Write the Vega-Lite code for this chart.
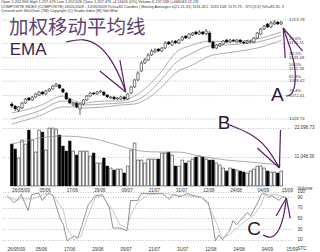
{
  "$schema": "https://vega.github.io/schema/vega-lite/v6.json",
  "padding": 0,
  "background": "white",
  "spacing": 0,
  "bounds": "flush",
  "title": {
    "text": [
      "Open 1,202.906  High 1,207.479  Low 1,202.626  Close 1,207.476  +4.11600 (0%)  Volume 6,137,588 (+666043.12.18)",
      "COMPOSITE INDEX (COMPOSITE)  26/05/2009 - 15/09/2009  Ticks=80  Candles | Moving Averages e(21,21,31) 1191.451, 1185.108, 1175.73 - STC(3,3) %K=89.35, 9",
      "Created with WinChart (TM)  Copyright (C) Studio Index [M] Sdn Bhd"
    ],
    "anchor": "start", "fontSize": 3.85, "fontWeight": "normal", "font": "Liberation Sans",
    "color": "#333", "lineHeight": 4.3, "offset": 1, "frame": "group"
  },
  "config": {
    "view": {"stroke": null},
    "axis": {"labelFont": "Liberation Sans", "labelFontSize": 4.5, "labelColor": "#333", "ticks": false, "domain": false,
             "gridColor": "#999", "gridDash": [1, 1.5], "gridWidth": 0.6, "labelPadding": 1, "labelOverlap": false},
    "text": {"font": "Liberation Sans"}
  },
  "datasets": {
    "days": [
      {"i":0,"date":"26/05","o":1056.8,"h":1060.5,"l":1049.3,"c":1053.0,"v":15973},
      {"i":1,"date":"27/05","o":1053.0,"h":1054.9,"l":1043.7,"c":1047.4,"v":14071},
      {"i":2,"date":"28/05","o":1045.4,"h":1053.0,"l":1041.8,"c":1051.2,"v":10648},
      {"i":3,"date":"29/05","o":1049.3,"h":1060.5,"l":1047.4,"c":1058.6,"v":17494},
      {"i":4,"date":"01/06","o":1058.6,"h":1068.0,"l":1056.8,"c":1066.1,"v":15973},
      {"i":5,"date":"02/06","o":1068.0,"h":1069.9,"l":1062.4,"c":1064.3,"v":21297},
      {"i":6,"date":"03/06","o":1064.3,"h":1071.7,"l":1062.4,"c":1069.9,"v":17494},
      {"i":7,"date":"04/06","o":1069.9,"h":1077.3,"l":1068.0,"c":1075.5,"v":12930},
      {"i":8,"date":"05/06","o":1073.6,"h":1081.1,"l":1071.7,"c":1079.2,"v":21297},
      {"i":9,"date":"08/06","o":1079.2,"h":1081.1,"l":1073.6,"c":1075.5,"v":20536},
      {"i":10,"date":"09/06","o":1075.5,"h":1082.9,"l":1073.6,"c":1081.1,"v":13691},
      {"i":11,"date":"10/06","o":1081.1,"h":1086.7,"l":1079.2,"c":1084.8,"v":22057},
      {"i":12,"date":"11/06","o":1084.8,"h":1092.3,"l":1082.9,"c":1090.4,"v":22057},
      {"i":13,"date":"12/06","o":1090.4,"h":1096.0,"l":1088.6,"c":1094.2,"v":21677},
      {"i":14,"date":"15/06","o":1092.3,"h":1094.2,"l":1084.8,"c":1086.7,"v":19395},
      {"i":15,"date":"16/06","o":1084.8,"h":1086.7,"l":1077.3,"c":1079.2,"v":15212},
      {"i":16,"date":"17/06","o":1077.3,"h":1079.2,"l":1064.3,"c":1066.1,"v":13311},
      {"i":17,"date":"18/06","o":1066.1,"h":1068.0,"l":1056.8,"c":1058.6,"v":17114},
      {"i":18,"date":"19/06","o":1054.9,"h":1060.5,"l":1053.0,"c":1058.6,"v":13311},
      {"i":19,"date":"22/06","o":1058.6,"h":1060.5,"l":1049.3,"c":1051.2,"v":11789},
      {"i":20,"date":"23/06","o":1047.4,"h":1058.6,"l":1036.3,"c":1056.8,"v":13311},
      {"i":21,"date":"24/06","o":1056.8,"h":1066.1,"l":1054.9,"c":1064.3,"v":13311},
      {"i":22,"date":"25/06","o":1064.3,"h":1073.6,"l":1062.4,"c":1071.7,"v":13311},
      {"i":23,"date":"26/06","o":1071.7,"h":1079.2,"l":1069.9,"c":1077.3,"v":11409},
      {"i":24,"date":"29/06","o":1077.3,"h":1079.2,"l":1073.6,"c":1075.5,"v":12550},
      {"i":25,"date":"30/06","o":1075.5,"h":1081.1,"l":1073.6,"c":1079.2,"v":8747},
      {"i":26,"date":"01/07","o":1079.2,"h":1082.9,"l":1077.3,"c":1081.1,"v":8747},
      {"i":27,"date":"02/07","o":1079.2,"h":1081.1,"l":1071.7,"c":1073.6,"v":10648},
      {"i":28,"date":"03/07","o":1073.6,"h":1075.5,"l":1068.0,"c":1069.9,"v":7606},
      {"i":29,"date":"06/07","o":1068.0,"h":1071.7,"l":1066.1,"c":1069.9,"v":6845},
      {"i":30,"date":"07/07","o":1069.9,"h":1071.7,"l":1064.3,"c":1066.1,"v":6085},
      {"i":31,"date":"08/07","o":1066.1,"h":1069.9,"l":1064.3,"c":1068.0,"v":6465},
      {"i":32,"date":"09/07","o":1066.1,"h":1071.7,"l":1064.3,"c":1069.9,"v":6465},
      {"i":33,"date":"10/07","o":1069.9,"h":1071.7,"l":1064.3,"c":1066.1,"v":4944},
      {"i":34,"date":"13/07","o":1066.1,"h":1077.3,"l":1064.3,"c":1075.5,"v":7606},
      {"i":35,"date":"14/07","o":1077.3,"h":1090.4,"l":1075.5,"c":1088.6,"v":13691},
      {"i":36,"date":"15/07","o":1088.6,"h":1103.5,"l":1086.7,"c":1101.7,"v":16353},
      {"i":37,"date":"16/07","o":1101.7,"h":1118.5,"l":1099.8,"c":1114.7,"v":9888},
      {"i":38,"date":"17/07","o":1118.5,"h":1137.2,"l":1116.6,"c":1133.4,"v":9888},
      {"i":39,"date":"20/07","o":1133.4,"h":1142.8,"l":1131.5,"c":1139.0,"v":8747},
      {"i":40,"date":"21/07","o":1139.0,"h":1152.1,"l":1137.2,"c":1148.4,"v":10268},
      {"i":41,"date":"22/07","o":1148.4,"h":1159.6,"l":1146.5,"c":1155.8,"v":10268},
      {"i":42,"date":"23/07","o":1154.0,"h":1161.4,"l":1152.1,"c":1157.7,"v":10268},
      {"i":43,"date":"24/07","o":1159.6,"h":1161.4,"l":1154.0,"c":1155.8,"v":10268},
      {"i":44,"date":"27/07","o":1155.8,"h":1163.3,"l":1154.0,"c":1161.4,"v":12550},
      {"i":45,"date":"28/07","o":1161.4,"h":1174.5,"l":1159.6,"c":1170.8,"v":12550},
      {"i":46,"date":"29/07","o":1172.7,"h":1174.5,"l":1167.1,"c":1168.9,"v":12930},
      {"i":47,"date":"30/07","o":1167.1,"h":1176.4,"l":1165.2,"c":1172.7,"v":11789},
      {"i":48,"date":"31/07","o":1174.5,"h":1176.4,"l":1168.9,"c":1170.8,"v":7606},
      {"i":49,"date":"03/08","o":1170.8,"h":1178.3,"l":1168.9,"c":1176.4,"v":7606},
      {"i":50,"date":"04/08","o":1176.4,"h":1183.9,"l":1174.5,"c":1182.0,"v":9888},
      {"i":51,"date":"05/08","o":1183.9,"h":1185.7,"l":1178.3,"c":1180.1,"v":8747},
      {"i":52,"date":"06/08","o":1180.1,"h":1189.5,"l":1178.3,"c":1187.6,"v":9508},
      {"i":53,"date":"07/08","o":1185.7,"h":1191.4,"l":1183.9,"c":1189.5,"v":10268},
      {"i":54,"date":"10/08","o":1191.4,"h":1193.2,"l":1185.7,"c":1187.6,"v":11029},
      {"i":55,"date":"11/08","o":1187.6,"h":1195.1,"l":1185.7,"c":1191.4,"v":11409},
      {"i":56,"date":"12/08","o":1191.4,"h":1193.2,"l":1185.7,"c":1187.6,"v":11029},
      {"i":57,"date":"13/08","o":1187.6,"h":1197.0,"l":1185.7,"c":1193.2,"v":10268},
      {"i":58,"date":"14/08","o":1189.5,"h":1193.2,"l":1170.8,"c":1172.7,"v":9888},
      {"i":59,"date":"17/08","o":1172.7,"h":1174.5,"l":1159.6,"c":1161.4,"v":9888},
      {"i":60,"date":"18/08","o":1161.4,"h":1168.9,"l":1159.6,"c":1167.1,"v":8747},
      {"i":61,"date":"19/08","o":1165.2,"h":1170.8,"l":1163.3,"c":1168.9,"v":7986},
      {"i":62,"date":"20/08","o":1168.9,"h":1176.4,"l":1167.1,"c":1174.5,"v":6845},
      {"i":63,"date":"21/08","o":1176.4,"h":1178.3,"l":1170.8,"c":1172.7,"v":5705},
      {"i":64,"date":"24/08","o":1172.7,"h":1178.3,"l":1170.8,"c":1176.4,"v":6845},
      {"i":65,"date":"25/08","o":1176.4,"h":1178.3,"l":1172.7,"c":1174.5,"v":6465},
      {"i":66,"date":"26/08","o":1172.7,"h":1178.3,"l":1170.8,"c":1176.4,"v":6085},
      {"i":67,"date":"27/08","o":1176.4,"h":1178.3,"l":1170.8,"c":1172.7,"v":5705},
      {"i":68,"date":"28/08","o":1172.7,"h":1174.5,"l":1168.9,"c":1170.8,"v":5324},
      {"i":69,"date":"01/09","o":1170.8,"h":1176.4,"l":1168.9,"c":1174.5,"v":4944},
      {"i":70,"date":"02/09","o":1172.7,"h":1176.4,"l":1170.8,"c":1174.5,"v":5705},
      {"i":71,"date":"03/09","o":1172.7,"h":1182.0,"l":1170.8,"c":1180.1,"v":6465},
      {"i":72,"date":"04/09","o":1180.1,"h":1191.4,"l":1178.3,"c":1189.5,"v":7606},
      {"i":73,"date":"07/09","o":1187.6,"h":1198.8,"l":1185.7,"c":1197.0,"v":7606},
      {"i":74,"date":"08/09","o":1197.0,"h":1204.4,"l":1195.1,"c":1202.6,"v":6845},
      {"i":75,"date":"09/09","o":1206.3,"h":1208.2,"l":1198.8,"c":1200.7,"v":5705},
      {"i":76,"date":"10/09","o":1200.7,"h":1211.9,"l":1198.8,"c":1208.2,"v":5324},
      {"i":77,"date":"11/09","o":1206.3,"h":1213.8,"l":1204.4,"c":1210.0,"v":5324},
      {"i":78,"date":"14/09","o":1210.0,"h":1211.9,"l":1204.4,"c":1206.3,"v":4944},
      {"i":79,"date":"15/09","o":1206.3,"h":1211.9,"l":1204.4,"c":1210.0,"v":5705}
    ],
    "ema": [
      {"s":"e1","i":0,"p":1040.0},{"s":"e1","i":8,"p":1053.0},{"s":"e1","i":15,"p":1071.7},{"s":"e1","i":18,"p":1064.3},{"s":"e1","i":21,"p":1058.6},{"s":"e1","i":27,"p":1062.4},{"s":"e1","i":32,"p":1062.4},{"s":"e1","i":36,"p":1071.7},{"s":"e1","i":40,"p":1090.4},{"s":"e1","i":44,"p":1118.5},{"s":"e1","i":48,"p":1152.1},{"s":"e1","i":53,"p":1167.1},{"s":"e1","i":58,"p":1174.5},{"s":"e1","i":63,"p":1172.7},{"s":"e1","i":67,"p":1174.5},{"s":"e1","i":72,"p":1178.3},{"s":"e1","i":79,"p":1191.5},
      {"s":"e2","i":0,"p":1028.7},{"s":"e2","i":8,"p":1043.7},{"s":"e2","i":15,"p":1062.4},{"s":"e2","i":18,"p":1060.5},{"s":"e2","i":21,"p":1054.9},{"s":"e2","i":27,"p":1056.8},{"s":"e2","i":32,"p":1058.6},{"s":"e2","i":36,"p":1062.4},{"s":"e2","i":40,"p":1077.3},{"s":"e2","i":44,"p":1103.5},{"s":"e2","i":48,"p":1133.4},{"s":"e2","i":53,"p":1152.1},{"s":"e2","i":58,"p":1165.2},{"s":"e2","i":63,"p":1167.1},{"s":"e2","i":67,"p":1168.9},{"s":"e2","i":72,"p":1172.7},{"s":"e2","i":79,"p":1185.1},
      {"s":"e3","i":0,"p":1019.4},{"s":"e3","i":8,"p":1034.4},{"s":"e3","i":15,"p":1051.2},{"s":"e3","i":18,"p":1051.2},{"s":"e3","i":21,"p":1049.3},{"s":"e3","i":27,"p":1051.2},{"s":"e3","i":32,"p":1054.9},{"s":"e3","i":36,"p":1056.8},{"s":"e3","i":40,"p":1068.0},{"s":"e3","i":44,"p":1088.6},{"s":"e3","i":48,"p":1114.7},{"s":"e3","i":53,"p":1129.7},{"s":"e3","i":58,"p":1146.5},{"s":"e3","i":63,"p":1152.1},{"s":"e3","i":67,"p":1155.8},{"s":"e3","i":72,"p":1161.4},{"s":"e3","i":79,"p":1175.7}
    ],
    "vma": [
      {"i":0,"v":15973},{"i":4,"v":17114},{"i":8,"v":18254},{"i":15,"v":19015},{"i":23,"v":18254},{"i":29,"v":16353},{"i":34,"v":14451},{"i":38,"v":13311},{"i":44,"v":12930},{"i":49,"v":12930},{"i":55,"v":11409},{"i":63,"v":9888},{"i":70,"v":9127},{"i":79,"v":7986}
    ],
    "stoch": [
      {"s":"K","i":0,"v":93},{"s":"K","i":2,"v":80},{"s":"K","i":3,"v":86},{"s":"K","i":4,"v":95},{"s":"K","i":6,"v":65},{"s":"K","i":7,"v":95},{"s":"K","i":9,"v":98},{"s":"K","i":10,"v":84},{"s":"K","i":11,"v":93},{"s":"K","i":12,"v":98},{"s":"K","i":13,"v":93},{"s":"K","i":15,"v":51},{"s":"K","i":16,"v":38},{"s":"K","i":17,"v":8},{"s":"K","i":19,"v":17},{"s":"K","i":20,"v":13},{"s":"K","i":21,"v":32},{"s":"K","i":23,"v":76},{"s":"K","i":25,"v":93},{"s":"K","i":27,"v":95},{"s":"K","i":29,"v":70},{"s":"K","i":30,"v":32},{"s":"K","i":32,"v":32},{"s":"K","i":34,"v":27},{"s":"K","i":35,"v":84},{"s":"K","i":37,"v":84},{"s":"K","i":38,"v":97},{"s":"K","i":40,"v":97},{"s":"K","i":44,"v":97},{"s":"K","i":46,"v":86},{"s":"K","i":47,"v":95},{"s":"K","i":49,"v":91},{"s":"K","i":51,"v":97},{"s":"K","i":53,"v":93},{"s":"K","i":55,"v":90},{"s":"K","i":57,"v":80},{"s":"K","i":58,"v":51},{"s":"K","i":59,"v":8},{"s":"K","i":60,"v":19},{"s":"K","i":61,"v":10},{"s":"K","i":63,"v":27},{"s":"K","i":64,"v":46},{"s":"K","i":65,"v":38},{"s":"K","i":68,"v":61},{"s":"K","i":69,"v":55},{"s":"K","i":71,"v":80},{"s":"K","i":72,"v":95},{"s":"K","i":73,"v":98},{"s":"K","i":74,"v":90},{"s":"K","i":75,"v":93},{"s":"K","i":77,"v":84},{"s":"K","i":78,"v":91},{"s":"K","i":79,"v":90},
      {"s":"D","i":0,"v":91},{"s":"D","i":3,"v":84},{"s":"D","i":4,"v":88},{"s":"D","i":7,"v":86},{"s":"D","i":11,"v":97},{"s":"D","i":13,"v":95},{"s":"D","i":16,"v":65},{"s":"D","i":17,"v":32},{"s":"D","i":19,"v":10},{"s":"D","i":21,"v":17},{"s":"D","i":23,"v":57},{"s":"D","i":25,"v":90},{"s":"D","i":27,"v":93},{"s":"D","i":30,"v":65},{"s":"D","i":32,"v":38},{"s":"D","i":34,"v":32},{"s":"D","i":35,"v":57},{"s":"D","i":37,"v":80},{"s":"D","i":40,"v":95},{"s":"D","i":44,"v":97},{"s":"D","i":55,"v":90},{"s":"D","i":57,"v":76},{"s":"D","i":59,"v":46},{"s":"D","i":61,"v":13},{"s":"D","i":63,"v":19},{"s":"D","i":66,"v":38},{"s":"D","i":70,"v":57},{"s":"D","i":72,"v":76},{"s":"D","i":73,"v":95},{"s":"D","i":76,"v":95},{"s":"D","i":79,"v":90}
    ],
    "levels": [
      {"p":1213.78,"pct":""},{"p":1170.11,"pct":"23.6%"},{"p":1143.09,"pct":"38.2%"},{"p":1121.26,"pct":"50.0%"},{"p":1099.42,"pct":"61.8%"},{"p":1072.41,"pct":"76.4%"},{"p":1028.74,"pct":""}
    ],
    "arrowsP": [
      {"g":"e1","k":0,"i":15.9,"p":1172.7},{"g":"e1","k":1,"i":21.0,"p":1180.1},{"g":"e1","k":2,"i":25.8,"p":1167.1},{"g":"e1","k":3,"i":29.5,"p":1137.2},{"g":"e1","k":4,"i":32.3,"p":1099.8},{"g":"e1","k":5,"i":33.4,"p":1079.2},
      {"g":"e2","k":0,"i":25.8,"p":1118.5},{"g":"e2","k":1,"i":33.4,"p":1079.2},
      {"g":"e3","k":0,"i":31.7,"p":1139.0},{"g":"e3","k":1,"i":33.4,"p":1079.2},
      {"g":"a1","k":0,"i":79.6,"p":1198.8},{"g":"a1","k":1,"i":82.4,"p":1148.4},{"g":"a1","k":2,"i":83.3,"p":1118.5},{"g":"a1","k":3,"i":83.0,"p":1082.9},{"g":"a1","k":4,"i":81.5,"p":1071.7},{"g":"a1","k":5,"i":80.4,"p":1071.7},
      {"g":"a2","k":0,"i":79.6,"p":1198.8},{"g":"a2","k":1,"i":85.3,"p":1155.8},
      {"g":"a3","k":0,"i":79.6,"p":1198.8},{"g":"a3","k":1,"i":80.2,"p":1142.8}
    ],
    "arrowsV": [
      {"g":"b1","k":0,"i":64.0,"v":23198},{"g":"b1","k":1,"i":70.0,"v":20156},{"g":"b1","k":2,"i":74.8,"v":15212},{"g":"b1","k":3,"i":78.5,"v":6845},
      {"g":"b2","k":0,"i":72.0,"v":14451},{"g":"b2","k":1,"i":78.5,"v":6845},
      {"g":"b3","k":0,"i":78.8,"v":21297},{"g":"b3","k":1,"i":78.5,"v":6845}
    ],
    "arrowsS": [
      {"g":"c1","k":0,"i":72.5,"v":18.9},{"g":"c1","k":1,"i":74.8,"v":11.3},{"g":"c1","k":2,"i":77.1,"v":26.4},{"g":"c1","k":3,"i":78.5,"v":56.6},{"g":"c1","k":4,"i":79.1,"v":88.7},
      {"g":"c2","k":0,"i":79.1,"v":88.7},{"g":"c2","k":1,"i":76.2,"v":54.7},
      {"g":"c3","k":0,"i":79.1,"v":88.7},{"g":"c3","k":1,"i":80.2,"v":50.9}
    ]
  },
  "vconcat": [
    {
      "width": 290, "height": 106,
      "layer": [
        {
          "data": {"name": "levels"},
          "mark": {"type": "rule", "color": "#999", "strokeDash": [1, 1.5], "strokeWidth": 0.6},
          "encoding": {"y": {"field": "p", "type": "quantitative", "scale": {"domain": [1019.4, 1217.5], "nice": false, "zero": false}, "axis": null}}
        },
        {
          "data": {"name": "levels"},
          "mark": {"type": "text", "align": "left", "baseline": "middle", "fontSize": 4.3, "color": "#333", "dx": 3},
          "encoding": {
            "x": {"datum": 80.42, "type": "quantitative", "scale": {"domain": [-1.7, 80.42], "nice": false, "zero": false}, "axis": null},
            "y": {"field": "p", "type": "quantitative", "scale": {"domain": [1019.4, 1217.5], "nice": false, "zero": false}, "axis": null},
            "text": {"field": "p", "type": "quantitative", "format": ".2f"}
          }
        },
        {
          "data": {"name": "levels"},
          "mark": {"type": "text", "align": "left", "baseline": "middle", "fontSize": 4.3, "color": "#333", "dx": 3, "dy": -4.3},
          "encoding": {
            "x": {"datum": 80.42, "type": "quantitative", "scale": {"domain": [-1.7, 80.42], "nice": false, "zero": false}, "axis": null},
            "y": {"field": "p", "type": "quantitative", "scale": {"domain": [1019.4, 1217.5], "nice": false, "zero": false}, "axis": null},
            "text": {"field": "pct", "type": "nominal"}
          }
        },
        {
          "data": {"name": "ema"},
          "mark": {"type": "line", "color": "#8a8a8a", "strokeWidth": 0.7, "interpolate": "monotone"},
          "encoding": {
            "x": {"field": "i", "type": "quantitative", "scale": {"domain": [-1.7, 80.42], "nice": false, "zero": false}, "axis": null},
            "y": {"field": "p", "type": "quantitative", "scale": {"domain": [1019.4, 1217.5], "nice": false, "zero": false}, "axis": null},
            "detail": {"field": "s", "type": "nominal"}
          }
        },
        {
          "data": {"name": "days"},
          "mark": {"type": "rule", "color": "#000", "strokeWidth": 0.6},
          "encoding": {
            "x": {"field": "i", "type": "quantitative", "scale": {"domain": [-1.7, 80.42], "nice": false, "zero": false}, "axis": null},
            "y": {"field": "l", "type": "quantitative", "scale": {"domain": [1019.4, 1217.5], "nice": false, "zero": false}, "axis": null},
            "y2": {"field": "h"}
          }
        },
        {
          "data": {"name": "days"},
          "mark": {"type": "bar", "size": 2.4, "stroke": "#000", "strokeWidth": 0.5},
          "encoding": {
            "x": {"field": "i", "type": "quantitative", "scale": {"domain": [-1.7, 80.42], "nice": false, "zero": false}, "axis": null},
            "y": {"field": "o", "type": "quantitative", "scale": {"domain": [1019.4, 1217.5], "nice": false, "zero": false}, "axis": null},
            "y2": {"field": "c"},
            "fill": {"condition": {"test": "datum.c < datum.o", "value": "#000"}, "value": "#fff"}
          }
        },
        {
          "data": {"values": [{"i": -0.85, "p": 1199.0, "t": "加权移动平均线"}]},
          "mark": {"type": "text", "align": "left", "baseline": "middle", "font": "Noto Sans CJK SC", "fontSize": 19.5, "color": "#5e4470"},
          "encoding": {
            "x": {"field": "i", "type": "quantitative", "scale": {"domain": [-1.7, 80.42], "nice": false, "zero": false}, "axis": null},
            "y": {"field": "p", "type": "quantitative", "scale": {"domain": [1019.4, 1217.5], "nice": false, "zero": false}, "axis": null},
            "text": {"field": "t"}
          }
        },
        {
          "data": {"values": [{"i": -0.6, "p": 1158.6, "t": "EMA"}]},
          "mark": {"type": "text", "align": "left", "baseline": "middle", "font": "Liberation Sans", "fontSize": 17, "color": "#3d2248"},
          "encoding": {
            "x": {"field": "i", "type": "quantitative", "scale": {"domain": [-1.7, 80.42], "nice": false, "zero": false}, "axis": null},
            "y": {"field": "p", "type": "quantitative", "scale": {"domain": [1019.4, 1217.5], "nice": false, "zero": false}, "axis": null},
            "text": {"field": "t"}
          }
        },
        {
          "data": {"values": [{"i": 77.9, "p": 1073.6, "t": "A"}]},
          "mark": {"type": "text", "align": "center", "baseline": "middle", "font": "Liberation Sans", "fontSize": 19, "color": "#2d1535"},
          "encoding": {
            "x": {"field": "i", "type": "quantitative", "scale": {"domain": [-1.7, 80.42], "nice": false, "zero": false}, "axis": null},
            "y": {"field": "p", "type": "quantitative", "scale": {"domain": [1019.4, 1217.5], "nice": false, "zero": false}, "axis": null},
            "text": {"field": "t"}
          }
        },
        {
          "data": {"name": "arrowsP"},
          "mark": {"type": "line", "color": "#5a1e62", "strokeWidth": 1.2, "interpolate": "basis"},
          "encoding": {
            "x": {"field": "i", "type": "quantitative", "scale": {"domain": [-1.7, 80.42], "nice": false, "zero": false}, "axis": null},
            "y": {"field": "p", "type": "quantitative", "scale": {"domain": [1019.4, 1217.5], "nice": false, "zero": false}, "axis": null},
            "detail": {"field": "g", "type": "nominal"},
            "order": {"field": "k", "type": "quantitative"}
          }
        }
      ]
    },
    {
      "width": 290, "height": 62,
      "layer": [
        {
          "data": {"name": "days"},
          "mark": {"type": "bar", "size": 2.7, "stroke": "#000", "strokeWidth": 0.5},
          "encoding": {
            "x": {"field": "i", "type": "quantitative", "scale": {"domain": [-1.7, 80.42], "nice": false, "zero": false},
                  "axis": {"orient": "bottom", "values": [0, 8, 16, 24, 32, 40, 48, 56, 64, 72, 79], "tickCount": 30, "labelExpr": "['26/05/09','05/06','17/06','29/06','09/07','21/07','31/07','12/08','24/08','04/09','15/09'][floor((datum.value + 1) / 8)]", "labelAlign": "left", "labelBaseline": "top", "labelFlush": false, "labelOverlap": false, "grid": false,
                           "title": "Volume", "titleFontSize": 4.5, "titleFontWeight": "normal", "titleFont": "Liberation Sans", "titleColor": "#333", "titleX": 296, "titleY": 2, "titleAlign": "left", "titleBaseline": "middle"}},
            "y": {"field": "v", "type": "quantitative", "scale": {"domain": [0, 23620], "nice": false},
                  "axis": {"orient": "right", "values": [11048.36, 22096.73], "format": ",.2f", "grid": true, "title": null, "labelPadding": 3}},
            "fill": {"condition": {"test": "datum.c < datum.o", "value": "#000"}, "value": "#fff"}
          }
        },
        {
          "data": {"name": "vma"},
          "mark": {"type": "line", "color": "#8a8a8a", "strokeWidth": 0.7, "interpolate": "monotone"},
          "encoding": {
            "x": {"field": "i", "type": "quantitative", "scale": {"domain": [-1.7, 80.42], "nice": false, "zero": false}},
            "y": {"field": "v", "type": "quantitative", "scale": {"domain": [0, 23620], "nice": false}}
          }
        },
        {
          "data": {"values": [{"i": 62.3, "v": 23959, "t": "B"}]},
          "mark": {"type": "text", "align": "center", "baseline": "middle", "font": "Liberation Sans", "fontSize": 19, "color": "#2d1535"},
          "encoding": {
            "x": {"field": "i", "type": "quantitative", "scale": {"domain": [-1.7, 80.42], "nice": false, "zero": false}},
            "y": {"field": "v", "type": "quantitative", "scale": {"domain": [0, 23620], "nice": false}},
            "text": {"field": "t"}
          }
        },
        {
          "data": {"name": "arrowsV"},
          "mark": {"type": "line", "color": "#5a1e62", "strokeWidth": 1.2, "interpolate": "basis"},
          "encoding": {
            "x": {"field": "i", "type": "quantitative", "scale": {"domain": [-1.7, 80.42], "nice": false, "zero": false}},
            "y": {"field": "v", "type": "quantitative", "scale": {"domain": [0, 23620], "nice": false}},
            "detail": {"field": "g", "type": "nominal"},
            "order": {"field": "k", "type": "quantitative"}
          }
        }
      ]
    },
    {
      "width": 290, "height": 59,
      "layer": [
        {
          "data": {"name": "stoch"},
          "mark": {"type": "line", "strokeWidth": 0.7},
          "encoding": {
            "x": {"field": "i", "type": "quantitative", "scale": {"domain": [-1.7, 80.42], "nice": false, "zero": false},
                  "axis": {"orient": "bottom", "values": [0, 8, 16, 24, 32, 40, 48, 56, 64, 72, 79], "tickCount": 30, "labelExpr": "['26/05/09','05/06','17/06','29/06','09/07','21/07','31/07','12/08','24/08','04/09','15/09'][floor((datum.value + 1) / 8)]", "labelAlign": "left", "labelBaseline": "top", "labelFlush": false, "labelOverlap": false, "grid": false,
                           "title": "STC", "titleFontSize": 4.5, "titleFontWeight": "normal", "titleFont": "Liberation Sans", "titleColor": "#333", "titleX": 296, "titleY": 3.5, "titleAlign": "left", "titleBaseline": "middle"}},
            "y": {"field": "v", "type": "quantitative", "scale": {"domain": [0, 111.3], "nice": false},
                  "axis": {"orient": "right", "values": [10, 30, 50, 70, 90, 100], "tickCount": 20, "grid": true, "title": null, "labelPadding": 6}},
            "color": {"field": "s", "type": "nominal", "scale": {"domain": ["K", "D"], "range": ["#666666", "#b0b0b0"]}, "legend": null}
          }
        },
        {
          "data": {"values": [{"i": 70, "v": 31, "t": "C"}]},
          "mark": {"type": "text", "align": "center", "baseline": "middle", "font": "Liberation Sans", "fontSize": 19, "color": "#2d1535"},
          "encoding": {
            "x": {"field": "i", "type": "quantitative", "scale": {"domain": [-1.7, 80.42], "nice": false, "zero": false}},
            "y": {"field": "v", "type": "quantitative", "scale": {"domain": [0, 111.3], "nice": false}},
            "text": {"field": "t"}
          }
        },
        {
          "data": {"name": "arrowsS"},
          "mark": {"type": "line", "color": "#5a1e62", "strokeWidth": 1.2, "interpolate": "basis"},
          "encoding": {
            "x": {"field": "i", "type": "quantitative", "scale": {"domain": [-1.7, 80.42], "nice": false, "zero": false}},
            "y": {"field": "v", "type": "quantitative", "scale": {"domain": [0, 111.3], "nice": false}},
            "detail": {"field": "g", "type": "nominal"},
            "order": {"field": "k", "type": "quantitative"}
          }
        }
      ]
    }
  ]
}
